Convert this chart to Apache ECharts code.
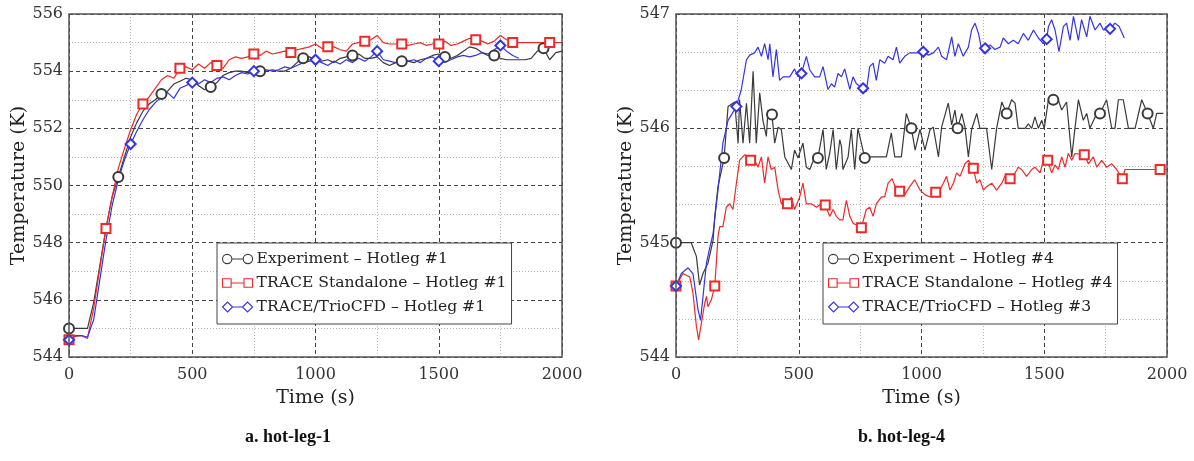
<!DOCTYPE html>
<html>
<head>
<meta charset="utf-8">
<script src="https://cdn.jsdelivr.net/npm/echarts@6/dist/echarts.min.js"></script>
<style>
html,body{margin:0;padding:0;background:#fff;}
#chart{width:1194px;height:461px;}
</style>
</head>
<body>
<div id="chart"></div>
<script>
// ---------- Panel a: hot-leg-1 ----------
const timeL = [0,25,50,75,100,125,150,175,200,225,250,275,300,325,350,375,400,425,450,475,
  500,525,550,575,600,625,650,675,700,725,750,775,800,825,850,875,900,925,950,975,
  1000,1025,1050,1075,1100,1125,1150,1175,1200,1225,1250,1275,1300,1325,1350,1375,1400,1425,1450,1475,
  1500,1525,1550,1575,1600,1625,1650,1675,1700,1725,1750,1775,1800,1825,1850,1875,1900,1925,1950,1975,2000];
const expL = [545.0,545.0,545.0,545.0,
  545.9,547.2,548.5,549.6,550.3,551.0,551.7,552.2,552.6,552.85,553.0,553.2,553.3,553.55,553.65,553.75,
  553.7,553.5,553.35,553.45,553.6,553.85,553.95,554.0,554.0,553.95,554.0,554.0,554.0,554.05,554.0,554.0,554.1,554.3,554.45,554.5,
  554.4,554.35,554.4,554.3,554.45,554.5,554.55,554.6,554.45,554.45,554.5,554.3,554.2,554.3,554.35,554.35,554.3,554.4,554.45,554.55,
  554.6,554.5,554.45,554.55,554.7,554.85,554.8,554.65,554.55,554.55,554.45,554.4,554.4,554.4,554.4,554.45,554.7,554.8,554.4,554.65,
  554.7];
const traceL = [544.6,544.72,544.75,544.65,
  545.7,547.1,548.5,549.6,550.6,551.3,551.95,552.5,552.85,553.1,553.4,553.7,553.85,553.75,554.1,554.15,
  554.05,554.25,554.1,554.3,554.2,554.1,554.4,554.5,554.45,554.5,554.6,554.55,554.7,554.6,554.65,554.7,554.65,554.75,554.8,554.85,
  554.95,554.8,554.85,554.85,554.75,554.7,554.95,555.0,555.05,555.1,555.25,555.0,554.95,554.95,554.95,554.9,554.95,555.0,554.9,554.95,
  554.95,555.05,554.9,554.95,555.05,555.15,555.1,555.05,554.95,555.05,555.25,555.1,555.0,555.0,555.0,555.0,555.0,555.0,555.0,555.0,
  555.0];
const trioL = [544.6,544.75,544.75,544.7,
  545.3,546.7,548.1,549.3,550.2,550.9,551.45,551.9,552.3,552.65,552.9,553.1,553.25,553.05,553.4,553.5,
  553.6,553.55,553.7,553.6,553.75,553.8,553.7,553.85,553.95,553.9,554.0,554.0,554.05,554.0,554.05,554.15,554.1,554.2,554.3,554.35,
  554.4,554.3,554.2,554.35,554.25,554.4,554.3,554.45,554.35,554.5,554.7,554.4,554.35,554.3,554.4,554.35,554.4,554.3,554.45,554.5,
  554.35,554.35,554.4,554.5,554.55,554.5,554.55,554.65,554.6,554.75,554.9,554.7,554.55,554.45];
const expMarksL = [0,200,375,575,775,950,1150,1350,1525,1725,1925];
const traceMarksL = [0,150,300,450,600,750,900,1050,1200,1350,1500,1650,1800,1950];
const trioMarksL = [0,250,500,750,1000,1250,1500,1750];

// ---------- Panel b: hot-leg-4 ----------
const expT4 = [0,62,83,96,110,130,151,158,171,196,212,239,253,259,273,287,300,314,327,341,
  354,368,375,391,402,416,429,443,470,483,497,517,531,545,565,578,599,612,626,640,
  653,667,674,680,701,714,728,741,755,769,782,836,857,877,891,918,938,959,974,994,
  1014,1035,1048,1069,1082,1109,1123,1136,1147,1164,1177,1191,1204,1225,1238,1265,1286,1306,1327,1347,
  1367,1381,1394,1422,1435,1449,1462,1476,1490,1500,1517,1537,1557,1571,1591,1612,1625,1639,1659,1673,
  1686,1714,1727,1754,1775,1788,1802,1822,1843,1870,1897,1921,1944,1958,1985];
const expV4 = [545.0,545.0,544.88,544.63,544.73,544.82,545.02,545.23,545.49,545.74,
  546.19,546.23,545.87,546.25,545.87,546.22,545.87,546.5,545.87,546.31,
  546.07,545.93,546.16,546.12,545.87,546.01,545.99,545.75,545.64,545.81,
  545.74,545.87,545.66,545.64,545.75,545.74,545.99,545.64,545.78,545.99,
  545.64,545.9,545.84,545.64,545.75,545.99,545.64,546.0,545.87,545.74,
  545.75,545.75,545.75,545.96,545.75,545.75,546.13,546.0,545.81,545.99,
  545.81,545.99,546.01,545.75,546.01,546.22,546.03,546.16,546.0,546.13,
  546.01,545.75,545.99,546.13,546.0,546.0,545.64,546.0,546.23,546.13,
  546.25,546.22,546.0,546.0,546.04,546.0,546.1,546.0,546.07,546.0,
  546.25,546.25,546.25,546.16,546.23,545.75,546.0,546.25,546.07,546.13,
  546.0,546.13,546.13,546.25,546.0,546.0,546.25,546.25,546.0,546.0,
  546.25,546.13,546.0,546.13,546.13];
const traceT4 = [0,28,56,69,83,92,103,117,124,130,144,158,171,178,191,205,219,232,246,259,
  280,304,320,334,348,361,375,388,402,416,429,443,454,470,483,504,517,531,551,572,
  592,608,626,640,653,667,680,694,708,721,755,775,789,803,816,837,850,864,880,898,
  911,932,952,972,994,1014,1035,1058,1075,1089,1102,1116,1130,1143,1157,1177,1191,1211,1225,1238,
  1252,1265,1286,1306,1327,1340,1361,1381,1394,1408,1428,1449,1462,1483,1496,1514,1530,1544,1557,1571,
  1585,1598,1612,1625,1663,1680,1700,1714,1734,1754,1775,1795,1818,1829,1972,2000];
const traceV4 = [544.62,544.73,544.7,544.56,544.27,544.15,544.29,544.47,544.53,544.44,
  544.5,544.62,545.05,545.14,545.14,545.31,545.34,545.29,545.52,545.72,
  545.77,545.72,545.72,545.66,545.75,545.52,545.75,545.64,545.66,545.46,
  545.34,545.37,545.34,545.4,545.29,545.4,545.52,545.34,545.34,545.31,
  545.34,545.33,545.23,545.29,545.23,545.2,545.2,545.37,545.23,545.17,
  545.13,545.29,545.31,545.23,545.34,545.4,545.4,545.52,545.56,545.46,
  545.45,545.42,545.49,545.55,545.46,545.42,545.4,545.44,545.46,545.52,
  545.58,545.46,545.52,545.61,545.58,545.69,545.72,545.65,545.52,545.55,
  545.46,545.49,545.52,545.46,545.52,545.58,545.56,545.61,545.66,545.64,
  545.58,545.64,545.66,545.61,545.72,545.72,545.61,545.68,545.64,545.75,
  545.66,545.78,545.72,545.78,545.77,545.69,545.75,545.66,545.72,545.66,
  545.69,545.64,545.56,545.64,545.64,545.64];
const trioT4 = [0,22,49,69,90,100,110,124,137,151,171,191,212,246,266,287,300,320,334,348,
  361,375,382,395,409,422,436,463,483,497,511,531,545,565,585,599,619,633,646,660,
  674,687,708,721,735,755,762,775,789,803,816,830,850,864,884,898,911,932,952,972,
  994,1007,1028,1048,1069,1082,1102,1123,1136,1150,1170,1191,1204,1218,1232,1245,1259,1279,1299,1320,
  1333,1354,1374,1394,1415,1435,1456,1476,1496,1510,1517,1530,1544,1560,1578,1591,1605,1619,1639,1652,
  1673,1686,1707,1727,1741,1768,1788,1805,1826];
const trioV4 = [544.62,544.73,544.78,544.73,544.41,544.32,544.53,544.82,544.95,545.08,
  545.46,545.87,546.07,546.19,546.34,546.6,546.64,546.66,546.71,546.63,
  546.74,546.6,546.74,546.45,546.69,546.42,546.45,546.45,546.52,546.45,
  546.48,546.63,546.51,546.45,546.45,546.54,546.34,546.39,546.36,546.48,
  546.45,546.52,546.34,546.45,546.39,546.36,546.35,546.32,546.54,546.57,
  546.42,546.6,546.57,546.63,546.6,546.71,546.57,546.63,546.66,546.66,
  546.66,546.67,546.64,546.66,546.71,546.63,546.6,546.8,546.63,546.74,
  546.63,546.71,546.86,546.92,546.83,546.69,546.7,546.73,546.69,546.71,
  546.79,546.74,546.77,546.74,546.83,546.77,546.86,546.79,546.74,546.78,
  546.89,546.95,546.86,546.67,546.89,546.92,546.77,546.98,546.77,546.95,
  546.8,546.98,546.86,546.92,546.86,546.87,546.92,546.89,546.79];
const expMarks4 = [0,196,391,578,769,959,1147,1347,1537,1727,1921];
const traceMarks4 = [0,158,304,454,608,755,911,1058,1211,1361,1514,1663,1818,1972];
const trioMarks4 = [0,246,511,762,1007,1259,1510,1768];

const names = {
  expL: 'Experiment \u2013 Hotleg #1',
  traceL: 'TRACE Standalone \u2013 Hotleg #1',
  trioL: 'TRACE/TrioCFD \u2013 Hotleg #1',
  exp4: 'Experiment \u2013 Hotleg #4',
  trace4: 'TRACE Standalone \u2013 Hotleg #4',
  trio4: 'TRACE/TrioCFD \u2013 Hotleg #3'
};
const captions = ['a. hot-leg-1', 'b. hot-leg-4'];

// ---------- styling ----------
const C_EXP = '#3a3a3a', C_TRACE = '#f02828', C_TRIO = '#3434e6';
const SERIF = '"DejaVu Serif", serif';

function build(ts, vs, marks, sym, size) {
  return ts.slice(0, vs.length).map((t, i) => marks.indexOf(t) >= 0
    ? { value: [t, vs[i]], symbol: sym, symbolSize: size }
    : { value: [t, vs[i]], symbol: 'none' });
}
function lineSeries(name, data, color, gi) {
  return {
    name, type: 'line', xAxisIndex: gi, yAxisIndex: gi, data,
    symbol: 'emptyCircle', showSymbol: true, showAllSymbol: true,
    itemStyle: { color: color, borderWidth: 1.1 },
    lineStyle: { color: color, width: 1.2 },
    emphasis: { disabled: true }, animation: false, z: 3
  };
}
const ICON_C = 'path://M0.5,5 A4.5,4.5 0 1 1 9.5,5 A4.5,4.5 0 1 1 0.5,5 Z M9.5,5 L20.5,5 M20.5,5 A4.5,4.5 0 1 1 29.5,5 A4.5,4.5 0 1 1 20.5,5 Z';
const ICON_S = 'path://M1,1 L9,1 L9,9 L1,9 Z M9,5 L21,5 M21,1 L29,1 L29,9 L21,9 Z';
const ICON_D = 'path://M0,5 L5,0 L10,5 L5,10 Z M10,5 L20,5 M20,5 L25,0 L30,5 L25,10 Z';

function legItem(name, icon, color) {
  return { name, icon, itemStyle: { color: '#fff', borderColor: color, borderWidth: 1.1 } };
}
function legend(left, items) {
  return {
    orient: 'vertical', left, top: 243, padding: [8, 5, 9, 5],
    itemGap: 8, itemWidth: 30, itemHeight: 10, selectedMode: false,
    backgroundColor: '#fff', borderColor: '#444', borderWidth: 1,
    textStyle: { fontFamily: SERIF, fontSize: 15.6, color: '#222', padding: [0, 0, 0, -1] },
    data: items, z: 10
  };
}
function plain(v) { return String(v); }
function xAxis(gi) {
  return {
    gridIndex: gi, type: 'value', min: 0, max: 2000, interval: 500,
    name: 'Time (s)', nameLocation: 'middle', nameGap: 32,
    nameTextStyle: { fontFamily: SERIF, fontSize: 19, color: '#222' },
    axisLine: { show: false }, axisTick: { show: false },
    axisLabel: { fontFamily: SERIF, fontSize: 16, color: '#333', margin: 10, formatter: plain },
    splitLine: { show: true, lineStyle: { color: '#444', type: [4, 3], width: 1 } },
    minorTick: { show: false, splitNumber: 2 },
    minorSplitLine: { show: true, lineStyle: { color: '#b5b5b5', type: [1, 2], width: 1 } }
  };
}
function yAxis(gi, min, max, interval, minorSplit) {
  return {
    gridIndex: gi, type: 'value', min, max, interval,
    name: 'Temperature (K)', nameLocation: 'middle', nameGap: 40,
    nameTextStyle: { fontFamily: SERIF, fontSize: 19, color: '#222' },
    axisLine: { show: false }, axisTick: { show: false },
    axisLabel: { fontFamily: SERIF, fontSize: 16, color: '#333', margin: 6, formatter: plain },
    splitLine: { show: true, lineStyle: { color: '#444', type: [4, 3], width: 1 } },
    minorTick: { show: false, splitNumber: minorSplit },
    minorSplitLine: { show: true, lineStyle: { color: '#b5b5b5', type: [1, 2], width: 1 } }
  };
}

const chart = echarts.init(document.getElementById('chart'), null, { renderer: 'canvas' });
chart.setOption({
  backgroundColor: '#fff',
  animation: false,
  grid: [
    { left: 69, top: 14, width: 493, height: 343, show: true, borderColor: '#555', borderWidth: 1.5, backgroundColor: 'transparent', z: 4 },
    { left: 676, top: 14, width: 491, height: 343, show: true, borderColor: '#555', borderWidth: 1.5, backgroundColor: 'transparent', z: 4 }
  ],
  xAxis: [xAxis(0), xAxis(1)],
  yAxis: [yAxis(0, 544, 556, 2, 2), yAxis(1, 544, 547, 1, 3)],
  legend: [
    legend(217, [legItem(names.expL, ICON_C, C_EXP), legItem(names.traceL, ICON_S, C_TRACE), legItem(names.trioL, ICON_D, C_TRIO)]),
    legend(823, [legItem(names.exp4, ICON_C, C_EXP), legItem(names.trace4, ICON_S, C_TRACE), legItem(names.trio4, ICON_D, C_TRIO)])
  ],
  series: [
    lineSeries(names.expL, build(timeL, expL, expMarksL, 'emptyCircle', 10), C_EXP, 0),
    lineSeries(names.traceL, build(timeL, traceL, traceMarksL, 'emptyRect', 9), C_TRACE, 0),
    lineSeries(names.trioL, build(timeL, trioL, trioMarksL, 'emptyDiamond', 10), C_TRIO, 0),
    lineSeries(names.exp4, build(expT4, expV4, expMarks4, 'emptyCircle', 10), C_EXP, 1),
    lineSeries(names.trace4, build(traceT4, traceV4, traceMarks4, 'emptyRect', 9), C_TRACE, 1),
    lineSeries(names.trio4, build(trioT4, trioV4, trioMarks4, 'emptyDiamond', 10), C_TRIO, 1)
  ],
  graphic: [
    { type: 'text', left: 290 - 45, top: 428, style: { text: captions[0], font: 'bold 18px "Liberation Serif", serif', fill: '#111' } },
    { type: 'text', left: 903 - 45, top: 428, style: { text: captions[1], font: 'bold 18px "Liberation Serif", serif', fill: '#111' } }
  ]
});
</script>
</body>
</html>
